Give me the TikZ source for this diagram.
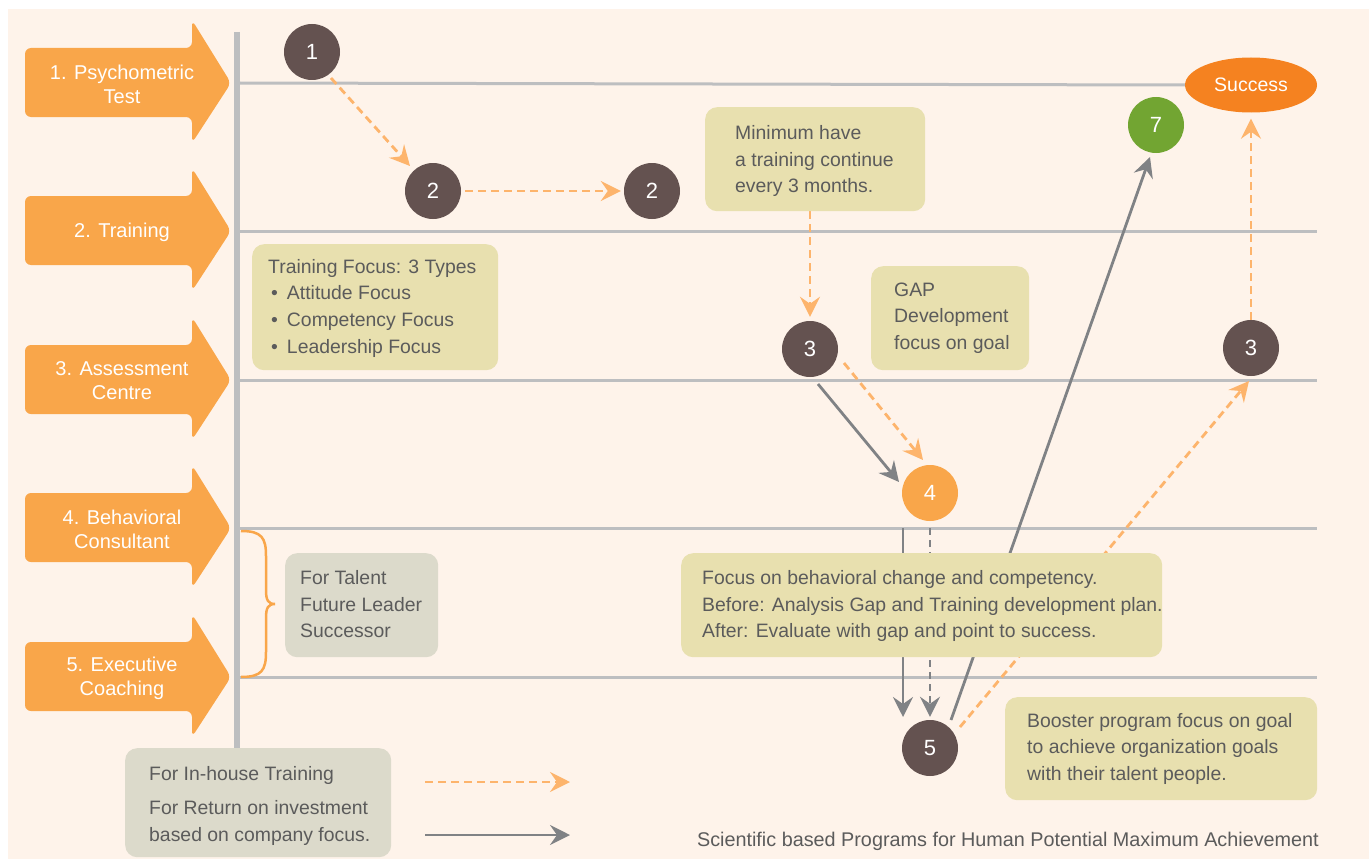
\documentclass[tikz,border=0pt]{standalone}
\usepackage{fontspec}
\setmainfont{Liberation Sans}
\usetikzlibrary{arrows.meta,calc,shapes.geometric}
\definecolor{creamc}{HTML}{FEF3EA}
\definecolor{sideor}{HTML}{F9A64A}
\definecolor{circbrown}{HTML}{645250}
\definecolor{greenc}{HTML}{72A532}
\definecolor{succor}{HTML}{F58220}
\definecolor{yboxc}{HTML}{E8E0AF}
\definecolor{gboxc}{HTML}{DCDACB}
\definecolor{txtc}{HTML}{5B5B5B}
\definecolor{gridc}{HTML}{BDBEC0}
\definecolor{garrc}{HTML}{808285}
\definecolor{oarrc}{HTML}{FDB46C}
\pgfdeclarelayer{bg}
\pgfdeclarelayer{conn}
\pgfsetlayers{bg,conn,main}
\newcommand\sidearrow[3]{%
  \fill[sideor, rounded corners=6pt] (25,#1-35) -- (192,#1-35) -- (192,#1-63) -- (231,#1) -- (192,#1+60) -- (192,#1+34) -- (25,#1+34) -- cycle;
  \node[sidelabel] (#2) at (122,#1+1) {#3};
}
\begin{document}
\begin{tikzpicture}[x=1pt,y=-1pt,
  circ/.style={circle, minimum size=56pt, inner sep=0pt, text=white, font=\fontsize{22}{22}\selectfont},
  sidelabel/.style={align=center, text=white, font=\fontsize{20}{24}\selectfont, inner sep=0pt},
  ybox/.style={fill=yboxc, rounded corners=12pt, anchor=north west, inner sep=0pt},
  gboxs/.style={fill=gboxc, rounded corners=12pt, anchor=north west, inner sep=0pt},
  btext/.style={align=left, text=txtc, font=\fontsize{19.4}{26.7}\selectfont, inner sep=0pt, anchor=west},
  gridline/.style={draw=gridc, line width=3pt},
  oarr/.style={draw=oarrc, line width=2.8pt, dash pattern=on 8pt off 5pt, -{Stealth[length=20pt,width=20pt,inset=7pt]}},
  garr/.style={draw=garrc, line width=2.8pt, -{Stealth[length=20pt,width=20pt,inset=7pt]}},
  gdarr/.style={garr, dash pattern=on 7pt off 5pt},
]
\useasboundingbox (0,0) rectangle (1369,859);
\begin{pgfonlayer}{bg}
  \fill[white] (0,0) rectangle (1369,859);
  \fill[creamc] (8,9) rectangle (1369,859);
  \draw[draw=gridc, line width=6pt] (237,32) -- (237,748);
  \draw[gridline] (240,231) -- (1317,231);
  \draw[gridline] (240,380) -- (1317,380);
  \draw[gridline] (240,528) -- (1317,528);
  \draw[gridline] (240,677) -- (1317,677);
  \sidearrow{83}{sa1}{1. Psychometric\\Test}
  \sidearrow{231}{sa2}{2. Training}
  \sidearrow{380}{sa3}{3. Assessment\\Centre}
  \sidearrow{528}{sa4}{4. Behavioral\\Consultant}
  \sidearrow{677}{sa5}{5. Executive\\Coaching}
  \draw[sideor, line width=2.5pt] (241,531) .. controls (262,531) and (266,538) .. (266,556) -- (266,590) .. controls (266,600) and (268,604) .. (275,604) .. controls (268,604) and (266,608) .. (266,618) -- (266,652) .. controls (266,670) and (262,677) .. (241,677);
\end{pgfonlayer}

% nodes
\node[circ, fill=circbrown] (c1) at (312,52) {1};
\node[circ, fill=circbrown] (c2) at (433,191) {2};
\node[circ, fill=circbrown] (c2b) at (652,191) {2};
\node[circ, fill=circbrown] (c3) at (810,349) {3};
\node[circ, fill=sideor] (c4) at (930,493) {4};
\node[circ, fill=circbrown] (c5) at (930,748) {5};
\node[circ, fill=circbrown] (c3b) at (1251,348) {3};
\node[circ, fill=greenc] (c7) at (1156,125) {7};
\node[ellipse, fill=succor, minimum width=132pt, minimum height=55pt, inner sep=0pt, text=white, font=\fontsize{19.5}{20}\selectfont] (succ) at (1251,85) {Success};

\node[ybox, minimum width=246pt, minimum height=126pt] (trainbox) at (252,244) {};
\node[btext] (traintext) at ($(trainbox.west)+(16,1)$) {Training Focus: 3 Types\\
\hspace*{3pt}\textbullet\hspace{9pt}Attitude Focus\\
\hspace*{3pt}\textbullet\hspace{9pt}Competency Focus\\
\hspace*{3pt}\textbullet\hspace{9pt}Leadership Focus};

\node[ybox, minimum width=220pt, minimum height=104pt] (minbox) at (705,107) {};
\node[btext] (mintext) at ($(minbox.west)+(30,2)$) {Minimum have\\a training continue\\every 3 months.};

\node[ybox, minimum width=158pt, minimum height=104pt] (gapbox) at (871,266) {};
\node[btext] (gaptext) at ($(gapbox.west)+(23,0)$) {GAP\\Development\\focus on goal};

\node[ybox, minimum width=481pt, minimum height=104pt] (focbox) at (681,553) {};
\node[btext] (foctext) at ($(focbox.west)+(21,1)$) {Focus on behavioral change and competency.\\Before: Analysis Gap and Training development plan.\\After: Evaluate with gap and point to success.};

\node[ybox, minimum width=312pt, minimum height=103pt] (boostbox) at (1005,697) {};
\node[btext] (boosttext) at ($(boostbox.west)+(22,0)$) {Booster program focus on goal\\to achieve organization goals\\with their talent people.};

\node[gboxs, minimum width=153pt, minimum height=104pt] (talbox) at (285,553) {};
\node[btext] (taltext) at ($(talbox.west)+(15,-1)$) {For Talent\\Future Leader\\Successor};

\node[gboxs, minimum width=266pt, minimum height=109pt] (legbox) at (125,748) {};
\node[btext] (legtext) at ($(legbox.west)+(24,3)$) {For In-house Training\\[8pt]For Return on investment\\based on company focus.};

\coordinate (lego1) at (425,782);
\coordinate (lego2) at (570,782);
\coordinate (legg1) at (425,835);
\coordinate (legg2) at (570,835);

\node[anchor=base east, text=txtc, font=\fontsize{19.8}{22}\selectfont, inner sep=0pt] (footer) at (1319,846) {Scientific based Programs for Human Potential Maximum Achievement};

% connectors
\begin{pgfonlayer}{conn}
  \draw[gridline] (240,83) -- (succ.west);
  \draw[oarr] ($(c1)+(19,26)$) -- ($(c2)+(-23,-25)$);
  \draw[oarr] ($(c2.east)+(4,0)$) -- ($(c2b.west)+(-3,0)$);
  \draw[oarr] (minbox.south -| c3) -- ($(c3.north)+(0,-4)$);
  \draw[oarr] ($(c3)+(34,14)$) -- ($(c4)+(-7,-33)$);
  \draw[garr] ($(c3)+(8,35)$) -- ($(c4)+(-31,-11)$);
  \draw[garr] ($(c4)+(-27,35)$) -- ($(c5)+(-27,-31)$);
  \draw[gdarr] ($(c4.south)+(0,7)$) -- ($(c5.north)+(0,-3)$);
  \draw[garr] ($(c5)+(21,-28)$) -- ($(c7)+(-6,32)$);
  \draw[oarr] ($(c5)+(30,-21)$) -- ($(c3b)+(-2,33)$);
  \draw[oarr] (c3b.north) -- ($(succ.south)+(0,6)$);
  \draw[oarr] (lego1) -- (lego2);
  \draw[garr] (legg1) -- (legg2);
\end{pgfonlayer}
\end{tikzpicture}
\end{document}
